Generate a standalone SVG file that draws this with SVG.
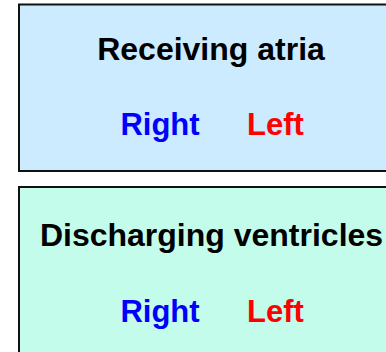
<svg xmlns="http://www.w3.org/2000/svg" width="386" height="352" viewBox="0 0 386 352">
<style>
.box{stroke:#111;stroke-width:2}
.t{font-family:"Liberation Sans",Arial,sans-serif;font-weight:bold;font-size:31px;text-anchor:middle}
.title{fill:#000;font-size:32px}
.r{fill:#0000FF}
.l{fill:#FF0000}
</style>
<rect width="386" height="352" fill="#fff"/>
<g id="atria">
<rect class="box" x="19" y="4.5" width="380" height="166.5" fill="#CCEBFF"/>
<text class="t title" x="211" y="60">Receiving atria</text>
<text class="t r" x="160" y="135">Right</text>
<text class="t l" x="275.5" y="135">Left</text>
</g>
<g id="ventricles">
<rect class="box" x="19" y="187" width="380" height="180" fill="#C4FCEC"/>
<text class="t title" x="211.5" y="246">Discharging ventricles</text>
<text class="t r" x="160" y="322">Right</text>
<text class="t l" x="275.5" y="322">Left</text>
</g>
<g id="connectors"></g>
</svg>
